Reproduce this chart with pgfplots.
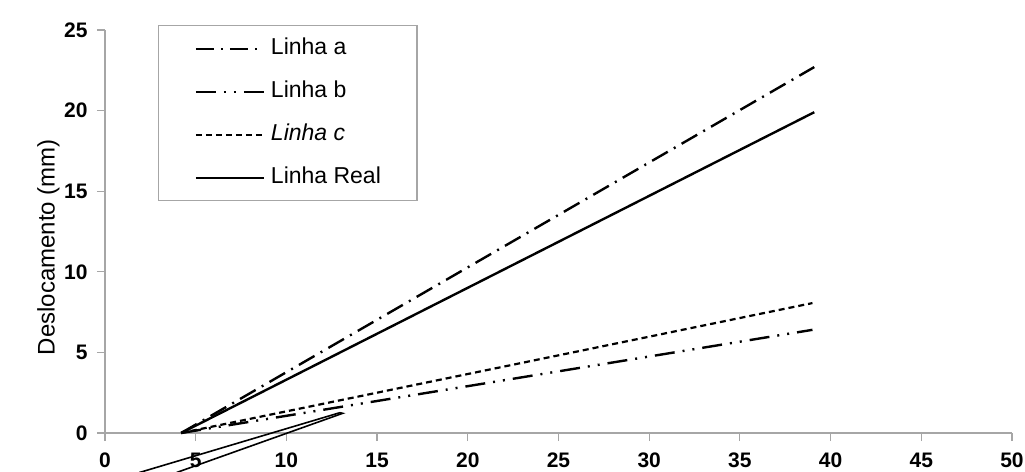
\documentclass[border=0pt]{standalone}
\usepackage{fontspec}
\setmainfont{Liberation Sans}
\usepackage{pgfplots}
\pgfplotsset{compat=1.18}
\begin{document}
\begin{tikzpicture}
\useasboundingbox (-52.5pt,-19.5pt) rectangle (460pt,216.5pt);
\begin{axis}[
  at={(0,0)}, anchor=south west,
  scale only axis, width=453.5pt, height=201.5pt,
  xmin=0, xmax=50, ymin=0, ymax=25,
  axis x line*=bottom, axis y line*=left,
  axis line style={gray!70, line width=0.6pt},
  xtick={0,5,...,50}, ytick={0,5,...,25},
  minor tick num=0,
  tick align=outside, major tick length=4pt,
  tick style={gray!70, line width=0.6pt},
  /pgf/number format/assume math mode=true,
  tick label style={font=\fontsize{10.5}{12}\selectfont\bfseries},
  xticklabel style={anchor=center, yshift=-9.5pt},
  yticklabel style={anchor=east, inner sep=0pt, xshift=-4.5pt},
  clip=false,
  ylabel={Deslocamento (mm)},
  ylabel style={font=\fontsize{12}{14}\selectfont, at={(axis description cs:-0.0623,0.4615)}, anchor=center},
  legend style={at={(axis description cs:0.0584,1.012)}, anchor=north west,
    draw=gray!70, line width=0.6pt, fill=white,
    inner xsep=18pt, inner ysep=6.25pt,
    font=\fontsize{11.5}{13}\selectfont, row sep=11pt,
    nodes={text height=8pt, text depth=2.5pt, inner sep=0pt},
    /tikz/every odd column/.append style={column sep=3pt}},
  legend cell align=left,
  legend image code/.code={\draw[#1] (0pt,0pt) -- (34pt,0pt);},
]
\addplot[black, line width=1.2pt, dash pattern=on 9pt off 3.5pt on 1pt off 3.5pt] coordinates {(4.2,0) (39.1,22.7)};
\addlegendentry{Linha a}
\addplot[black, line width=1.2pt, dash pattern=on 10pt off 4pt on 1pt off 4pt on 1pt off 4pt] coordinates {(4.2,0) (39.0,6.4)};
\addlegendentry{Linha b}
\addplot[black, line width=1.1pt, dash pattern=on 3pt off 2pt] coordinates {(4.2,0) (39.0,8.06)};
\addlegendentry{\itshape Linha c}
\addplot[black, line width=1.2pt] coordinates {(4.2,0) (39.1,19.9)};
\addlegendentry{Linha Real}
\addplot[black, line width=0.8pt, forget plot] coordinates {(1.9,-2.45) (12.95,1.26)};
\addplot[black, line width=0.8pt, forget plot] coordinates {(3.95,-2.45) (13.1,1.22) (12.95,1.26)};
\end{axis}
\end{tikzpicture}
\end{document}
